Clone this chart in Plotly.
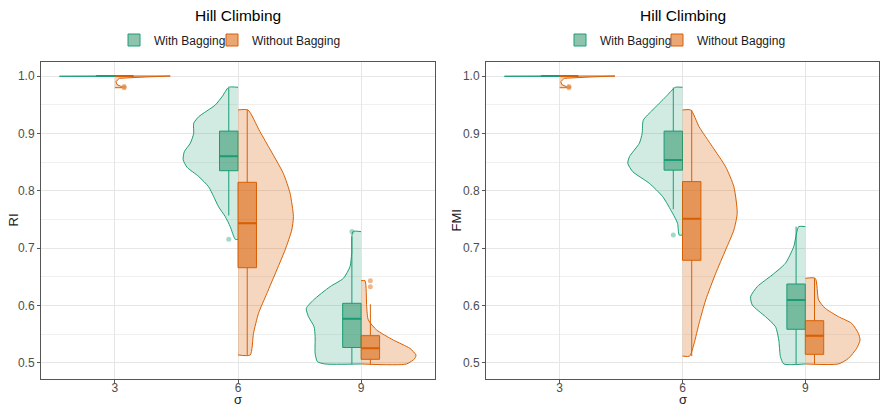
import plotly.graph_objects as go

# ---------------- data ----------------
sigma = [3, 6, 9]
sigma_labels = ["3", "6", "9"]
group_names = ["With Bagging", "Without Bagging"]
panel_titles = ["Hill Climbing", "Hill Climbing"]
metric_names = ["RI", "FMI"]
x_title = "σ"

# ---- RI, With Bagging ----
ri_with_q1 = [1.0, 0.835, 0.527]
ri_with_median = [1.0, 0.860, 0.577]
ri_with_q3 = [1.0, 0.904, 0.604]
ri_with_lower = [1.0, 0.757, 0.498]
ri_with_upper = [1.0, 0.979, 0.720]
ri_with_outliers = [[], [0.7155], [0.729]]
ri_with_violin_y = [
    [0.9995, 1.0],
    [0.7155, 0.7375, 0.755, 0.772, 0.790, 0.807, 0.825, 0.841, 0.854, 0.868, 0.883, 0.900, 0.9175, 0.929, 0.9495, 0.965, 0.9803],
    [0.4983, 0.5023, 0.517, 0.546, 0.5633, 0.5807, 0.595, 0.6098, 0.633, 0.6475, 0.668, 0.691, 0.7288],
]
ri_with_violin_d = [
    [1.0, 1.0],
    [0.05, 0.14, 0.23, 0.35, 0.44, 0.53, 0.71, 0.92, 0.99, 0.97, 0.86, 0.80, 0.80, 0.71, 0.41, 0.28, 0.17],
    [0.65, 0.79, 0.83, 0.83, 0.85, 0.95, 0.99, 0.86, 0.56, 0.32, 0.20, 0.17, 0.15],
]

# ---- RI, Without Bagging ----
ri_without_q1 = [0.999, 0.666, 0.5064]
ri_without_median = [1.0, 0.7434, 0.5256]
ri_without_q3 = [1.0, 0.8148, 0.5476]
ri_without_lower = [0.998, 0.514, 0.497]
ri_without_upper = [1.0, 0.9408, 0.6023]
ri_without_outliers = [[0.9815, 0.9796], [], [0.6434, 0.633]]
ri_without_violin_y = [
    [0.9796, 0.9815, 0.985, 0.99, 0.996, 0.9985, 1.0],
    [0.514, 0.5517, 0.5865, 0.621, 0.662, 0.697, 0.7317, 0.755, 0.7956, 0.830, 0.877, 0.906, 0.9408],
    [0.4983, 0.508, 0.514, 0.5255, 0.540, 0.5575, 0.575, 0.598, 0.6434],
]
ri_without_violin_d = [
    [0.12, 0.12, 0.04, 0.02, 0.08, 0.6, 1.0],
    [0.22, 0.28, 0.37, 0.52, 0.70, 0.85, 0.97, 1.0, 0.94, 0.82, 0.55, 0.38, 0.18],
    [0.82, 0.97, 0.99, 0.88, 0.58, 0.28, 0.13, 0.10, 0.07],
]

# ---- FMI, With Bagging ----
fmi_with_q1 = [1.0, 0.836, 0.5587]
fmi_with_median = [1.0, 0.8537, 0.6098]
fmi_with_q3 = [1.0, 0.904, 0.6376]
fmi_with_lower = [1.0, 0.768, 0.498]
fmi_with_upper = [1.0, 0.980, 0.7375]
fmi_with_outliers = [[], [0.723], []]
fmi_with_violin_y = [
    [0.9995, 1.0],
    [0.723, 0.7434, 0.761, 0.790, 0.813, 0.8333, 0.848, 0.8594, 0.883, 0.900, 0.923, 0.9408, 0.964, 0.9803],
    [0.4983, 0.511, 0.540, 0.5633, 0.5807, 0.601, 0.6155, 0.633, 0.6533, 0.6737, 0.7026, 0.7375],
]
fmi_with_violin_d = [
    [1.0, 1.0],
    [0.06, 0.09, 0.18, 0.36, 0.60, 0.90, 0.99, 0.96, 0.78, 0.73, 0.71, 0.54, 0.30, 0.13],
    [0.39, 0.45, 0.48, 0.54, 0.72, 0.96, 0.99, 0.87, 0.60, 0.36, 0.21, 0.12],
]

# ---- FMI, Without Bagging ----
fmi_without_q1 = [0.999, 0.679, 0.5151]
fmi_without_median = [1.0, 0.7514, 0.5476]
fmi_without_q3 = [1.0, 0.816, 0.5737]
fmi_without_lower = [0.998, 0.512, 0.4983]
fmi_without_upper = [1.0, 0.9408, 0.6475]
fmi_without_outliers = [[0.9815, 0.9796], [], []]
fmi_without_violin_y = [
    [0.9796, 0.9815, 0.985, 0.99, 0.996, 0.9985, 1.0],
    [0.512, 0.534, 0.569, 0.6098, 0.656, 0.697, 0.7317, 0.761, 0.807, 0.842, 0.877, 0.9117, 0.9408],
    [0.4983, 0.508, 0.5256, 0.540, 0.5517, 0.569, 0.5807, 0.5953, 0.6098, 0.6475],
]
fmi_without_violin_d = [
    [0.12, 0.12, 0.04, 0.02, 0.08, 0.6, 1.0],
    [0.13, 0.21, 0.30, 0.42, 0.60, 0.78, 0.93, 0.99, 0.93, 0.78, 0.54, 0.30, 0.15],
    [0.60, 0.78, 0.93, 0.99, 0.96, 0.84, 0.60, 0.36, 0.24, 0.18],
]

# ---------------- styling ----------------
GREEN = "#1b9e77"
ORANGE = "#d95f02"
STYLE = {
    GREEN: dict(vfill="rgba(27,150,110,0.2)", bfill="rgba(50,145,105,0.55)",
                out="rgba(27,158,119,0.4)"),
    ORANGE: dict(vfill="rgba(217,95,2,0.25)", bfill="rgba(217,95,2,0.55)",
                 out="rgba(217,95,2,0.45)"),
}
FONT = "Liberation Sans, Arial, Helvetica, sans-serif"
CAT = 3.0               # spacing between σ categories in data units
HW = 0.45 * CAT         # half-violin width
BOXW = 0.15 * CAT       # box width

W, H = 880, 406
ML, MR, MT, MB = 41, 1, 62, 27
PW, PH = W - ML - MR, H - MT - MB


def px_x(px):
    return (px - ML) / PW


def px_y(py):
    return 1 + (MT - py) / PH


# legend text start positions (pixels) for each legend entry
LEG_TEXT_X = {"legend": 154, "legend2": 252, "legend3": 600, "legend4": 697}
TEXT_OFFSET = 40
YTITLE_X = [13, 456]


def group(name, color, side, q1, med, q3, lo, hi, out, vy, vd, legend):
    return dict(name=name, color=color, side=side, q1=q1, median=med, q3=q3,
                lower=lo, upper=hi, out=out, vy=vy, vd=vd, legend=legend)


panels = [
    dict(x="x", y="y", groups=[
        group(group_names[0], GREEN, -1, ri_with_q1, ri_with_median, ri_with_q3,
              ri_with_lower, ri_with_upper, ri_with_outliers, ri_with_violin_y, ri_with_violin_d, "legend"),
        group(group_names[1], ORANGE, 1, ri_without_q1, ri_without_median, ri_without_q3,
              ri_without_lower, ri_without_upper, ri_without_outliers, ri_without_violin_y, ri_without_violin_d, "legend2"),
    ]),
    dict(x="x2", y="y2", groups=[
        group(group_names[0], GREEN, -1, fmi_with_q1, fmi_with_median, fmi_with_q3,
              fmi_with_lower, fmi_with_upper, fmi_with_outliers, fmi_with_violin_y, fmi_with_violin_d, "legend3"),
        group(group_names[1], ORANGE, 1, fmi_without_q1, fmi_without_median, fmi_without_q3,
              fmi_without_lower, fmi_without_upper, fmi_without_outliers, fmi_without_violin_y, fmi_without_violin_d, "legend4"),
    ]),
]

fig = go.Figure()

for p in panels:
    # half violins
    for g in p["groups"]:
        st = STYLE[g["color"]]
        for s, vy, vd in zip(sigma, g["vy"], g["vd"]):
            xs = [s] + [s + g["side"] * HW * d for d in vd] + [s]
            ys = [vy[0]] + list(vy) + [vy[-1]]
            shape = "spline" if (max(vy) - min(vy)) > 0.05 else "linear"
            fig.add_trace(go.Scatter(
                x=xs, y=ys, mode="lines", fill="toself", fillcolor=st["vfill"],
                line=dict(color=g["color"], width=1, shape=shape, smoothing=0.6),
                xaxis=p["x"], yaxis=p["y"], showlegend=False, hoverinfo="skip"))
    # boxes
    for g in p["groups"]:
        st = STYLE[g["color"]]
        bx = [s + g["side"] * BOXW / 2 for s in sigma]
        fig.add_trace(go.Box(
            x=bx, q1=g["q1"], median=g["median"], q3=g["q3"],
            lowerfence=g["lower"], upperfence=g["upper"], width=BOXW,
            fillcolor=st["bfill"], line=dict(color=g["color"], width=1),
            whiskerwidth=0, boxpoints=False, name=g["name"], legend=g["legend"],
            showlegend=True, xaxis=p["x"], yaxis=p["y"], hoverinfo="skip"))
        # thicker median line
        fig.add_trace(go.Box(
            x=bx, q1=g["median"], median=g["median"], q3=g["median"],
            lowerfence=g["median"], upperfence=g["median"], width=BOXW,
            fillcolor=g["color"], line=dict(color=g["color"], width=2),
            whiskerwidth=0, boxpoints=False, showlegend=False,
            xaxis=p["x"], yaxis=p["y"], hoverinfo="skip"))
        # outliers
        ox, oy = [], []
        for b, outs in zip(bx, g["out"]):
            for v in outs:
                ox.append(b)
                oy.append(v)
        fig.add_trace(go.Scatter(
            x=ox, y=oy, mode="markers", marker=dict(color=st["out"], size=5),
            xaxis=p["x"], yaxis=p["y"], showlegend=False, hoverinfo="skip"))

# ---------------- layout ----------------
dom1 = [0, px_x(435)]
dom2 = [px_x(486), 1]
c1 = (dom1[0] + dom1[1]) / 2
c2 = (dom2[0] + dom2[1]) / 2

GRID = "#e6e6e6"
common_x = dict(range=[sigma[0] - 0.6 * CAT, sigma[-1] + 0.6 * CAT], tickvals=sigma,
                ticktext=sigma_labels, showgrid=True, gridcolor=GRID, gridwidth=1,
                zeroline=False, showline=True, mirror=True, linecolor="#555555",
                linewidth=1, ticks="outside", ticklen=3, tickcolor="#555555",
                ticklabelstandoff=-5,
                tickfont=dict(size=12, color="#4d4d4d", family=FONT))
common_y = dict(range=[0.4721, 1.0244], tick0=0.5, dtick=0.1, tickformat=".1f",
                showgrid=True, gridcolor=GRID, gridwidth=1, zeroline=False,
                minor=dict(dtick=0.05, showgrid=True, gridcolor="#f0f0f0", gridwidth=1),
                showline=True, mirror=True, linecolor="#555555", linewidth=1,
                ticks="outside", ticklen=3, tickcolor="#555555",
                tickfont=dict(size=12, color="#4d4d4d", family=FONT))

legends = {}
for key, tx in LEG_TEXT_X.items():
    legends[key] = dict(orientation="h", xanchor="left", yanchor="middle",
                        x=px_x(tx - TEXT_OFFSET), y=px_y(40),
                        font=dict(size=12, color="#1a1a1a", family=FONT), itemwidth=30,
                        bgcolor="rgba(0,0,0,0)")

ann = []
for c, t, mt, yx in zip([c1, c2], panel_titles, metric_names, YTITLE_X):
    ann.append(dict(text=t, x=c, y=px_y(15), xref="paper", yref="paper", showarrow=False,
                    xanchor="center", yanchor="middle",
                    font=dict(size=15.5, color="#000000", family=FONT)))
    ann.append(dict(text=x_title, x=c, y=px_y(399.5), xref="paper", yref="paper", showarrow=False,
                    xanchor="center", yanchor="middle",
                    font=dict(size=13, color="#1a1a1a", family=FONT)))
    ann.append(dict(text=mt, x=px_x(yx), y=0.5, xref="paper", yref="paper", showarrow=False,
                    xanchor="center", yanchor="middle", textangle=-90,
                    font=dict(size=13, color="#1a1a1a", family=FONT)))

fig.update_layout(
    width=W, height=H, margin=dict(l=ML, r=MR, t=MT, b=MB, autoexpand=False),
    paper_bgcolor="white", plot_bgcolor="white",
    font=dict(family=FONT),
    xaxis=dict(domain=dom1, anchor="y", **common_x),
    xaxis2=dict(domain=dom2, anchor="y2", **common_x),
    yaxis=dict(anchor="x", **common_y),
    yaxis2=dict(anchor="x2", **common_y),
    annotations=ann,
    **legends,
)

fig.write_html("out.html", config={"displayModeBar": False},
               post_script="document.body.style.margin='0px';")
